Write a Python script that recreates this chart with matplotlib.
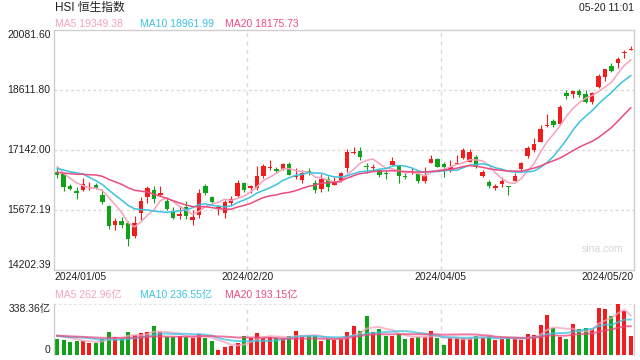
import matplotlib.pyplot as plt
import matplotlib.transforms as mtransforms
import numpy as np
import pandas as pd

plt.rcParams["font.family"] = ["Liberation Sans", "Noto Sans CJK SC", "DejaVu Sans"]

# HSI daily candles, 2024/01/05 - 2024/05/20 (90 sessions)
opens = [16600, 16560, 16260, 16140, 16160, 16220, 16280, 16040, 15770, 15300,
         15400, 15360, 15030, 15600, 15990, 16170, 16050, 15900, 15650, 15530,
         15750, 15420, 15540, 16270, 15990, 15720, 15600, 15850, 16020, 16330,
         16220, 16220, 16500, 16700, 16680, 16680, 16800, 16480, 16400, 16620,
         16330, 16180, 16420, 16280, 16400, 16700, 17060, 17120, 16750, 16700,
         16650, 16580, 16780, 16760, 16510, 16580, 16550, 16380, 16830, 16930,
         16790, 16650, 16800, 16950, 16860, 16970, 16500, 16360, 16200, 16300,
         16260, 16390, 16680, 17000, 17150, 17340, 17720, 17860, 17780, 18550,
         18510, 18590, 18510, 18330, 18680, 18920, 19200, 19280, 19520, 19600]
highs = [16730, 16580, 16300, 16243, 16456, 16365, 16340, 16180, 15800, 15480,
         15510, 15400, 15530, 15996, 16260, 16260, 16260, 15960, 15740, 15770,
         15900, 15660, 16180, 16300, 16010, 15790, 15920, 16010, 16410, 16370,
         16290, 16750, 16790, 16900, 16730, 16830, 16850, 16700, 16650, 16700,
         16410, 16550, 16510, 16490, 16610, 17170, 17220, 17215, 16820, 16800,
         16660, 16650, 16980, 16780, 16580, 16700, 16580, 16730, 17020, 16940,
         16860, 16900, 17020, 17180, 17170, 17020, 16640, 16410, 16310, 16490,
         16270, 16580, 16860, 17230, 17430, 17750, 18020, 17900, 18240, 18610,
         18590, 18630, 18610, 18570, 19010, 19130, 19280, 19430, 19590, 19690]
lows = [16460, 16140, 16150, 15940, 16130, 16162, 16180, 15820, 15200, 15180,
        15230, 14790, 14990, 15430, 15850, 15850, 16020, 15660, 15450, 15450,
        15450, 15300, 15470, 16050, 15840, 15560, 15480, 15800, 15990, 16120,
        16080, 16160, 16460, 16650, 16580, 16650, 16520, 16430, 16340, 16520,
        16090, 16120, 16140, 16280, 16370, 16600, 17040, 16900, 16580, 16650,
        16490, 16430, 16770, 16340, 16440, 16550, 16340, 16330, 16820, 16720,
        16480, 16600, 16790, 16915, 16840, 16700, 16470, 16220, 16160, 16240,
        16040, 16380, 16610, 16940, 17100, 17340, 17700, 17700, 17760, 18380,
        18410, 18430, 18300, 18280, 18650, 18840, 19060, 19150, 19390, 19580]
closes = [16535, 16224, 16190, 16097, 16302, 16244, 16216, 15866, 15277, 15391,
          15309, 14961, 15354, 15900, 16212, 15952, 16077, 15703, 15485, 15566,
          15534, 15510, 16100, 16080, 15878, 15747, 15879, 15945, 16340, 16156,
          16248, 16503, 16743, 16726, 16635, 16791, 16537, 16511, 16589, 16596,
          16163, 16438, 16230, 16353, 16588, 17094, 17082, 16962, 16721, 16737,
          16529, 16543, 16863, 16499, 16474, 16618, 16393, 16541, 16932, 16725,
          16724, 16720, 16828, 17139, 17095, 16722, 16600, 16249, 16252, 16386,
          16224, 16512, 16829, 17201, 17285, 17651, 17747, 17763, 18207, 18476,
          18578, 18479, 18314, 18538, 18964, 19115, 19074, 19377, 19554, 19628]
# turnover, 亿
volumes = [106, 99, 86, 93, 95, 80, 80, 106, 152, 119,
           106, 152, 130, 148, 152, 192, 152, 122, 119, 126,
           122, 115, 137, 110, 93, 33, 51, 57, 80, 126,
           115, 148, 115, 122, 110, 110, 126, 159, 122, 126,
           126, 93, 104, 99, 115, 152, 192, 159, 259, 152,
           170, 126, 126, 137, 106, 115, 119, 119, 159, 115,
           66, 115, 115, 115, 115, 126, 115, 126, 99, 106,
           115, 106, 99, 137, 133, 199, 265, 181, 119, 106,
           206, 172, 181, 170, 312, 305, 259, 338.36, 290, 125]

# sessions before 2024/01/05, only used to warm up the moving averages
prior_closes = [16560, 16440, 16430, 16300, 16470, 16330, 16500, 16792, 16629, 16505,
                16613, 16621, 16340, 16624, 17043, 17047, 16788, 16646, 16645]
prior_volumes = [135, 120, 128, 140, 118, 125, 150, 132, 126, 122,
                 138, 115, 110, 105, 128, 142, 136, 130, 145]

tick_pos = [0, 30, 60, 89]
tick_labels = ["2024/01/05", "2024/02/20", "2024/04/05", "2024/05/20"]
price_ticks = [14202.39, 15672.19, 17142.00, 18611.80, 20081.60]
vol_top = 338.36

price_legend = ["MA5 19349.38", "MA10 18961.99", "MA20 18175.73"]
vol_legend = ["MA5 262.96亿", "MA10 236.55亿", "MA20 193.15亿"]

RED = "#f21c1c"
GREEN = "#10a31a"
MA_COLORS = {5: "#f6a2bc", 10: "#3cc2e2", 20: "#ec4b80"}
GRID = "#d9d9d9"
FRAME = "#cfcfcf"

W, H = 640, 360


def px_rect(x0, y0, x1, y1):
    return [x0 / W, 1 - y1 / H, (x1 - x0) / W, (y1 - y0) / H]


fig = plt.figure(figsize=(6.4, 3.6), dpi=100)
ax = fig.add_axes(px_rect(54, 30, 634, 270))
axv = fig.add_axes(px_rect(54, 304, 634, 355))

df = pd.DataFrame({"open": opens, "high": highs, "low": lows,
                   "close": closes, "volume": volumes})
x = np.arange(len(df))
colors = np.where(df["close"] >= df["open"], RED, GREEN)
n_prior = len(prior_closes)
all_close = pd.Series(prior_closes + closes, dtype=float)
all_vol = pd.Series(prior_volumes + volumes, dtype=float)

# --- price panel ---
ax.vlines(x, df["low"], df["high"], colors=colors, linewidth=0.8, zorder=2)
body = (df["close"] - df["open"]).abs().clip(lower=20)
ax.bar(x, body, bottom=df[["open", "close"]].min(axis=1), width=0.7,
       color=colors, linewidth=0, zorder=2)
for p, c in MA_COLORS.items():
    ma = all_close.rolling(p).mean().iloc[n_prior:].to_numpy()
    ax.plot(x, ma, color=c, lw=1.1, zorder=3)

ax.set_xlim(-0.5, len(df) - 0.5)
ax.set_ylim(price_ticks[0], price_ticks[-1])
for v in price_ticks[1:-1]:
    ax.axhline(v, color=GRID, lw=1, ls=(0, (2, 2)), zorder=0)
for p in tick_pos[1:-1]:
    ax.axvline(p - 0.5, color=GRID, lw=1, ls=(0, (3, 3)), zorder=0)
ax.set_xticks([])
ax.set_yticks([])
for s in ax.spines.values():
    s.set_color(FRAME)
    s.set_linewidth(1)

ytrans = mtransforms.blended_transform_factory(ax.transAxes, ax.transData)
for i, v in enumerate(price_ticks):
    va = "bottom" if i == 0 else ("top" if i == len(price_ticks) - 1 else "center")
    ax.text(-0.006, v, f"{v:.2f}", transform=ytrans, ha="right", va=va,
            fontsize=7.5, color="#222222")

xtrans = mtransforms.blended_transform_factory(ax.transData, ax.transAxes)
for i, (p, lab) in enumerate(zip(tick_pos, tick_labels)):
    if i == 0:
        xp, ha = -0.5, "left"
    elif i == len(tick_pos) - 1:
        xp, ha = len(df) - 0.5, "right"
    else:
        xp, ha = p - 0.5, "center"
    ax.text(xp, -0.031, lab, transform=xtrans, ha=ha, va="center",
            fontsize=7.5, color="#222222")

ax.text(0.945, 0.0875, "sina.com", transform=ax.transAxes, ha="center",
        va="center", fontsize=7.5, color="#d6d6d6")

# --- volume panel ---
axv.bar(x, df["volume"], width=0.62, color=colors, linewidth=0, zorder=2)
for p, c in MA_COLORS.items():
    ma = all_vol.rolling(p).mean().iloc[n_prior:].to_numpy()
    axv.plot(x, ma, color=c, lw=1.4, alpha=0.75, zorder=3)
axv.set_xlim(-0.5, len(df) - 0.5)
axv.set_ylim(0, vol_top)
axv.axhline(vol_top, color=GRID, lw=1.2, ls=(0, (1.5, 1.5)), zorder=1)
for p in tick_pos[1:-1]:
    axv.axvline(p - 0.5, color=GRID, lw=1, ls=(0, (3, 3)), zorder=0)
axv.set_xticks([])
axv.set_yticks([])
for k, s in axv.spines.items():
    s.set_color(FRAME)
    s.set_linewidth(1)
    if k in ("top", "bottom"):
        s.set_visible(False)
axv.text(-0.006, 1.0, f"{vol_top:.2f}亿", transform=axv.transAxes, ha="right",
         va="top", fontsize=7.5, color="#222222")
axv.text(-0.006, 0.0, "0", transform=axv.transAxes, ha="right",
         va="bottom", fontsize=7.5, color="#222222")

# --- header texts ---
fig.text(55 / W, 1 - 8 / H, "HSI 恒生指数", ha="left", va="center",
         fontsize=8.5, color="#222222")
fig.text(634 / W, 1 - 8 / H, "05-20 11:01", ha="right", va="center",
         fontsize=7.5, color="#222222")
legend_x = [55, 140, 225]
for lx, txt, c in zip(legend_x, price_legend, MA_COLORS.values()):
    fig.text(lx / W, 1 - 24 / H, txt, ha="left", va="center", fontsize=7.5, color=c)
for lx, txt, c in zip(legend_x, vol_legend, MA_COLORS.values()):
    fig.text(lx / W, 1 - 295 / H, txt, ha="left", va="center", fontsize=7.5, color=c)

fig.savefig("out.png", dpi=100)
